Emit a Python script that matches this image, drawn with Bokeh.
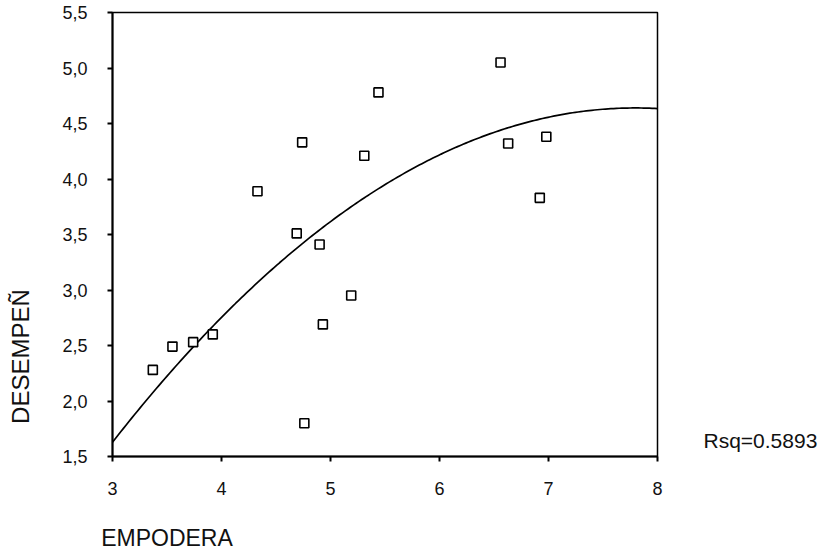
import numpy as np
from bokeh.plotting import figure
from bokeh.models import Range1d, FixedTicker, LinearAxis
from bokeh.embed import file_html
from bokeh.resources import INLINE

# EMPODERA (x) vs DESEMPEÑ (y), one point per case
empodera = [3.37, 3.55, 3.74, 3.92, 4.33, 4.69, 4.74, 4.76, 4.90, 4.93,
            5.19, 5.31, 5.44, 6.56, 6.63, 6.92, 6.98]
desempeno = [2.28, 2.49, 2.53, 2.60, 3.89, 3.51, 4.33, 1.80, 3.41, 2.69,
             2.95, 4.21, 4.78, 5.05, 4.32, 3.83, 4.38]

# quadratic fit  y = b0 + b1*x + b2*x^2
fit_coef = [-3.314, 2.040, -0.1308]
rsq_text = "Rsq=0.5893"

x_ticks = [3, 4, 5, 6, 7, 8]
x_tick_labels = ["3", "4", "5", "6", "7", "8"]
y_ticks = [1.5, 2.0, 2.5, 3.0, 3.5, 4.0, 4.5, 5.0, 5.5]
y_tick_labels = ["1,5", "2,0", "2,5", "3,0", "3,5", "4,0", "4,5", "5,0", "5,5"]

x_title, y_title = "EMPODERA", "DESEMPEÑ"

xs = np.linspace(3, 8, 200)
ys = fit_coef[0] + fit_coef[1] * xs + fit_coef[2] * xs ** 2

FONT = "Liberation Sans"
INK = "#111111"

p = figure(width=825, height=558, output_backend="svg", toolbar_location=None,
           x_range=Range1d(3, 8), y_range=Range1d(1.5, 5.5),
           min_border_left=112, min_border_right=168,
           min_border_top=12, min_border_bottom=102)
p.grid.visible = False
p.background_fill_color = "white"
p.border_fill_color = "white"
p.outline_line_color = "black"
p.outline_line_width = 1.5

for ax, ticks, labels in ((p.xaxis[0], x_ticks, x_tick_labels),
                          (p.yaxis[0], y_ticks, y_tick_labels)):
    ax.ticker = FixedTicker(ticks=ticks)
    ax.major_label_overrides = {t: l for t, l in zip(ticks, labels)}
    ax.minor_tick_line_color = None
    ax.major_tick_in = 0
    ax.major_tick_out = 5
    ax.major_tick_line_width = 2
    ax.axis_line_width = 2
    ax.axis_line_color = "black"
    ax.major_tick_line_color = "black"
    ax.major_label_text_font = FONT
    ax.major_label_text_font_size = "18px"
    ax.major_label_text_color = INK

p.xaxis[0].major_label_standoff = 20
p.yaxis[0].major_label_standoff = 20


def text_axis(pos, text, standoff, size, **kw):
    """A bare axis carrying a single label: used for the titles and the note."""
    return LinearAxis(ticker=FixedTicker(ticks=[pos]),
                      major_label_overrides={pos: text},
                      axis_line_color=None, major_tick_line_color=None,
                      minor_tick_line_color=None, major_tick_in=0, major_tick_out=0,
                      major_label_standoff=standoff,
                      major_label_text_font=FONT, major_label_text_font_size=size,
                      major_label_text_color=INK, **kw)


# R-squared note beside the frame, level with y = 1.645
p.add_layout(text_axis(1.645, rsq_text, 46, "21px"), "right")
# x title, its centre under x = 3.5
p.add_layout(text_axis(3.5, x_title, 27, "23px"), "below")
# y title, read bottom to top, its centre beside y = 2.40
p.add_layout(text_axis(2.40, y_title, 25, "24px",
                       major_label_orientation="vertical"), "left")

p.line(xs, ys, line_color="black", line_width=1.7)
p.scatter(empodera, desempeno, marker="square", size=9, fill_color="white",
          line_color="black", line_width=1.6)

open("out.html", "w").write(file_html(p, INLINE))
